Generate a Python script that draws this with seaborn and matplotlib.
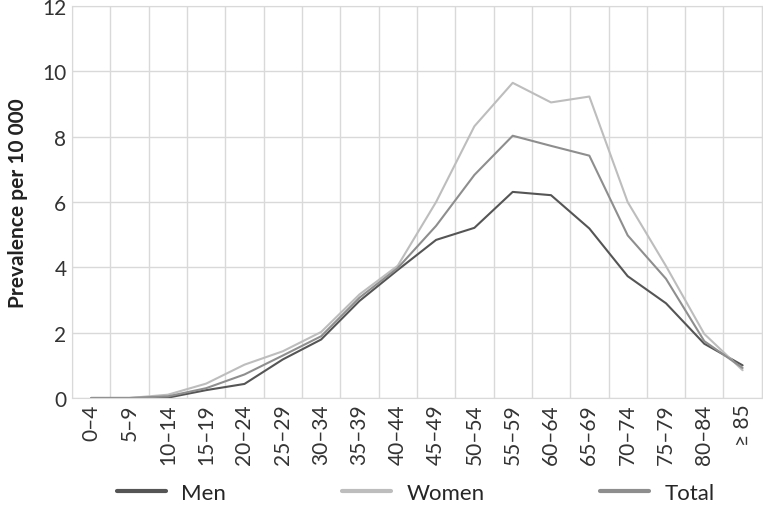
import pandas as pd
import matplotlib
matplotlib.use("Agg")
import matplotlib.pyplot as plt
import seaborn as sns
from matplotlib.ticker import FixedLocator

# Prevalence per 10 000 by age group
age_groups = ["0–4", "5–9", "10–14", "15–19", "20–24", "25–29", "30–34", "35–39",
              "40–44", "45–49", "50–54", "55–59", "60–64", "65–69", "70–74",
              "75–79", "80–84", "≥ 85"]
men = [0, 0, 0.01, 0.24, 0.43, 1.18, 1.79, 2.97, 3.92, 4.84, 5.21, 6.31, 6.21,
       5.19, 3.73, 2.9, 1.66, 1.0]
women = [0, 0, 0.1, 0.44, 1.02, 1.43, 2.02, 3.17, 4.05, 6.0, 8.32, 9.65, 9.05,
         9.23, 6.0, 4.04, 1.96, 0.85]
total = [0, 0, 0.05, 0.3, 0.72, 1.3, 1.89, 3.07, 3.98, 5.27, 6.83, 8.03, 7.72,
         7.42, 4.98, 3.65, 1.74, 0.92]

df = pd.DataFrame({
    "age": age_groups * 3,
    "value": men + women + total,
    "group": ["Men"] * len(men) + ["Women"] * len(women) + ["Total"] * len(total),
})

sns.set_style("white")
plt.rcParams["font.family"] = ["Lato", "DejaVu Sans"]

fig = plt.figure(figsize=(7.63, 5.06), dpi=100)
ax = fig.add_axes([0.0944, 0.2115, 0.904, 0.7745])

palette = {"Men": "#555555", "Women": "#bdbdbd", "Total": "#8e8e8e"}
sns.lineplot(data=df, x="age", y="value", hue="group", palette=palette,
             linewidth=1.5, ax=ax, legend=False, sort=False)

ax.set_xlim(-0.5, len(age_groups) - 0.5)
ax.set_ylim(0, 12)
ax.set_yticks(range(0, 13, 2))
ax.set_xticks(range(len(age_groups)))
ax.set_xticklabels(age_groups, rotation=90, fontsize=15, color="#333333")
ax.tick_params(axis="y", labelsize=15, colors="#333333")
ax.tick_params(length=0, pad=4)
ax.xaxis.set_minor_locator(FixedLocator([i + 0.5 for i in range(-1, len(age_groups))]))
ax.grid(True, which="minor", axis="x", color="#d9d9d9", linewidth=1)
ax.grid(True, which="major", axis="y", color="#d9d9d9", linewidth=1)
ax.tick_params(which="minor", length=0)
for s in ax.spines.values():
    s.set_color("#d9d9d9")
ax.set_axisbelow(True)

ax.set_xlabel("")
ax.set_ylabel("Prevalence per 10 000", fontsize=15, fontweight="bold",
              color="#222222", labelpad=10)

handles = [plt.Line2D([], [], color=palette[k], linewidth=3) for k in ["Men", "Women", "Total"]]
fig.legend(handles, ["Men", "Women", "Total"], loc="lower center", ncol=3,
           bbox_to_anchor=(0.545, -0.035), frameon=False, fontsize=16,
           columnspacing=5.2, handlelength=2.2, handletextpad=0.7)

fig.savefig("out.png", dpi=100)
